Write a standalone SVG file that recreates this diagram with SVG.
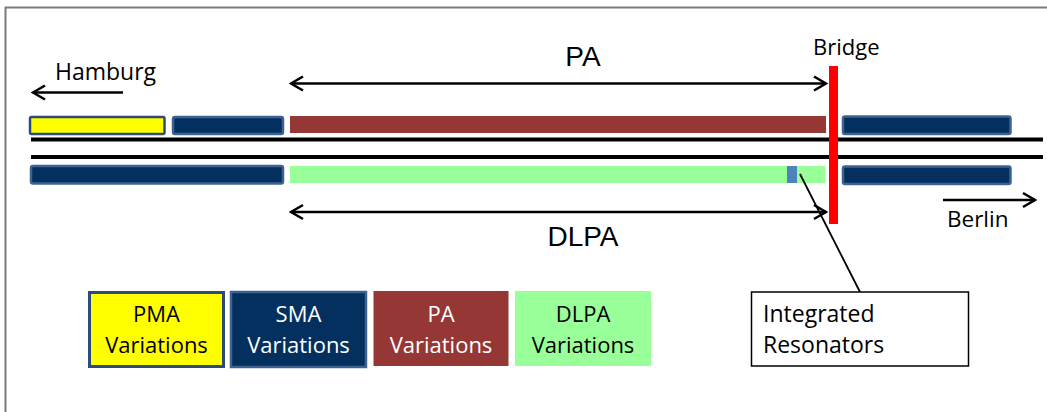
<svg xmlns="http://www.w3.org/2000/svg" width="1047" height="412" viewBox="0 0 1047 412">
<defs>
<style>
.lbl{font-family:"Open Sans","Liberation Sans",sans-serif;font-size:22px;fill:#000}
.big{font-family:"Liberation Sans",Arial,sans-serif;font-size:28px;fill:#000;text-anchor:middle}
.mid{text-anchor:middle}
.wht{fill:#fff}
.sma{fill:#03305f;stroke:#3f6291;stroke-width:2.5}
.arrow{stroke:#000;stroke-width:2.5;fill:none}
.track{stroke:#000;stroke-width:4}
</style>
<marker id="head" viewBox="0 0 16 18" refX="14" refY="9" markerWidth="16" markerHeight="18" markerUnits="userSpaceOnUse" orient="auto-start-reverse">
<path d="M2,2 L14,9 L2,16" fill="none" stroke="#000" stroke-width="2.6"/>
</marker>
</defs>
<rect x="0" y="0" width="1047" height="412" fill="#fff"/>
<rect id="frame" x="5.5" y="7.5" width="1060" height="420" fill="none" stroke="#7a7a7a" stroke-width="2"/>

<g id="tracks">
<line class="track" x1="31" y1="139.5" x2="1043" y2="139.5"/>
<line class="track" x1="31" y1="157" x2="1043" y2="157"/>
</g>

<g id="pma-bar"><rect x="30" y="117" width="134.5" height="17" fill="#ffff00" stroke="#2c4a7a" stroke-width="2.5" rx="1.5"/></g>
<g id="sma-top-left"><rect class="sma" x="173" y="117" width="110" height="17" rx="2"/></g>
<g id="pa-bar"><rect x="290" y="116" width="536" height="17" fill="#953735"/></g>
<g id="sma-top-right"><rect class="sma" x="843" y="116.5" width="167.5" height="17.5" rx="2"/></g>
<g id="sma-bottom-left"><rect class="sma" x="31" y="166" width="252" height="17.5" rx="2"/></g>
<g id="dlpa-bar"><rect x="290" y="166" width="535" height="17" fill="#99ff99"/></g>
<g id="resonator"><rect x="787" y="166" width="10" height="17" fill="#4f81bd"/></g>
<g id="sma-bottom-right"><rect class="sma" x="843" y="166.5" width="167.5" height="17.5" rx="2"/></g>
<g id="bridge"><rect x="829" y="66" width="9" height="158" fill="#ff0000"/>
<text class="lbl" x="813" y="55">Bridge</text></g>

<g id="connectors">
<line class="arrow" x1="291" y1="83.5" x2="826" y2="83.5" marker-start="url(#head)" marker-end="url(#head)"/>
<line class="arrow" x1="291" y1="212" x2="826" y2="212" marker-start="url(#head)" marker-end="url(#head)"/>
<line class="arrow" x1="123" y1="92.5" x2="33" y2="92.5" marker-end="url(#head)"/>
<line class="arrow" x1="943" y1="200" x2="1035" y2="200" marker-end="url(#head)"/>
<line x1="800" y1="174" x2="860" y2="292" stroke="#000" stroke-width="1.8"/>
</g>

<g id="pa-label"><text class="big" x="583" y="66">PA</text></g>
<g id="dlpa-label"><text class="big" x="583" y="246">DLPA</text></g>
<g id="hamburg"><text class="lbl" x="55" y="80" style="font-size:23px">Hamburg</text></g>
<g id="berlin"><text class="lbl" x="947" y="227" style="font-size:22.5px">Berlin</text></g>

<g id="integrated-resonators">
<rect x="751.5" y="292" width="217" height="74" fill="#fff" stroke="#000" stroke-width="1.5"/>
<text class="lbl" x="763" y="322" style="font-size:23px">Integrated</text>
<text class="lbl" x="763" y="353" style="font-size:23px">Resonators</text>
</g>

<g id="legend-pma">
<rect x="89.5" y="292.5" width="134" height="74" fill="#ffff00" stroke="#2c4a7a" stroke-width="3"/>
<text class="lbl mid" x="156.5" y="322">PMA</text>
<text class="lbl mid" x="156.5" y="353">Variations</text>
</g>
<g id="legend-sma">
<rect class="sma" x="231" y="292" width="135" height="75"/>
<text class="lbl mid wht" x="298.5" y="322">SMA</text>
<text class="lbl mid wht" x="298.5" y="353">Variations</text>
</g>
<g id="legend-pa">
<rect x="373.5" y="291" width="135" height="75" fill="#953735"/>
<text class="lbl mid wht" x="441" y="322">PA</text>
<text class="lbl mid wht" x="441" y="353">Variations</text>
</g>
<g id="legend-dlpa">
<rect x="515" y="291" width="136" height="75" fill="#99ff99"/>
<text class="lbl mid" x="583" y="322">DLPA</text>
<text class="lbl mid" x="583" y="353">Variations</text>
</g>
</svg>
